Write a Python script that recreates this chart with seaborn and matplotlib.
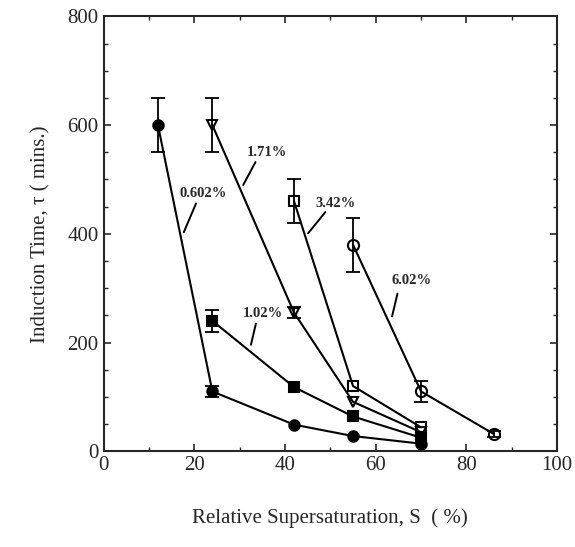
import matplotlib
matplotlib.use("Agg")
import matplotlib.pyplot as plt
from matplotlib.ticker import MultipleLocator
import seaborn as sns
import pandas as pd

# supersaturation S (%) and induction time (mins) for each concentration
s_0602 = [12, 24, 42, 55, 70]
t_0602 = [600, 110, 49, 28, 14]
e_0602 = [50, 10, 0, 0, 0]

s_102 = [24, 42, 55, 70]
t_102 = [240, 118, 64, 25]
e_102 = [20, 0, 0, 0]

s_171 = [24, 42, 55, 70]
t_171 = [600, 255, 91, 35]
e_171 = [50, 10, 0, 0]

s_342 = [42, 55, 70]
t_342 = [460, 120, 44]
e_342 = [40, 0, 0]

s_602 = [55, 70, 86]
t_602 = [380, 110, 32]
e_602 = [50, 20, 5]

labels = ["0.602%", "1.02%", "1.71%", "3.42%", "6.02%"]
label_pos = [(22.0, 474), (35.2, 254), (36.0, 550), (51.2, 455), (67.9, 314)]
leader_lines = [((20.4, 456), (17.7, 403)),
                ((33.6, 235), (32.5, 196)),
                ((33.5, 532), (30.8, 490)),
                ((48.9, 440), (45.1, 401)),
                ((64.8, 290), (63.6, 248))]

series = [
    (s_0602, t_0602, e_0602, "o", "black", 7.5),
    (s_102, t_102, e_102, "s", "black", 7.5),
    (s_171, t_171, e_171, "v", "none", 7),
    (s_342, t_342, e_342, "s", "none", 7),
    (s_602, t_602, e_602, "o", "none", 8),
]

sns.set_style("ticks")
plt.rcParams["font.family"] = ["Liberation Serif", "DejaVu Serif"]

fig = plt.figure(figsize=(5.75, 5.47), dpi=100)
ax = fig.add_axes([0.18, 0.175, 0.789, 0.795])

for (x, y, err, marker, face, ms), name in zip(series, labels):
    df = pd.DataFrame({"S": x, "tau": y})
    sns.lineplot(data=df, x="S", y="tau", ax=ax, color="black", linewidth=1.5,
                 marker=marker, markersize=ms, markerfacecolor=face,
                 markeredgecolor="black", markeredgewidth=1.5, legend=False)
    xe = [a for a, e in zip(x, err) if e > 0]
    ye = [b for b, e in zip(y, err) if e > 0]
    ee = [e for e in err if e > 0]
    ax.errorbar(xe, ye, yerr=ee, fmt="none", ecolor="black", elinewidth=1.3,
                capsize=5, capthick=1.3)

for name, (tx, ty), (p0, p1) in zip(labels, label_pos, leader_lines):
    ax.text(tx, ty, name, ha="center", va="center", fontsize=10.5, fontweight="bold")
    ax.plot([p0[0], p1[0]], [p0[1], p1[1]], color="black", linewidth=1.4)

ax.set_xlim(0, 100)
ax.set_ylim(0, 800)
ax.xaxis.set_major_locator(MultipleLocator(20))
ax.xaxis.set_minor_locator(MultipleLocator(10))
ax.yaxis.set_major_locator(MultipleLocator(200))
ax.yaxis.set_minor_locator(MultipleLocator(50))
ax.tick_params(which="both", direction="in", top=True, right=True, labelsize=15)
ax.tick_params(which="major", length=5, width=1.2)
ax.tick_params(which="minor", length=3, width=1.0)
for sp in ax.spines.values():
    sp.set_linewidth(1.5)

ax.set_xlabel("Relative Supersaturation, S  ( %)", fontsize=15, labelpad=24)
ax.set_ylabel("Induction Time, \u03c4 ( mins.)", fontsize=15, labelpad=12)

fig.savefig("out.png", dpi=100)
